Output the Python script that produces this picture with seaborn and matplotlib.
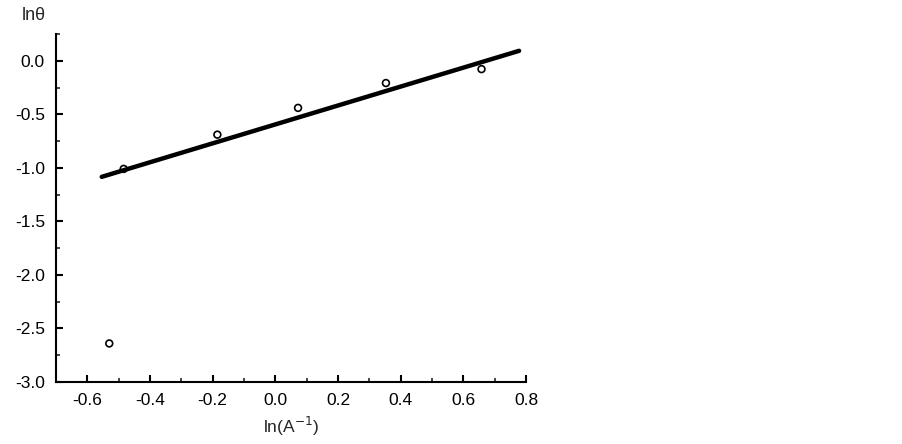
import matplotlib
matplotlib.use("Agg")
import matplotlib.pyplot as plt
import seaborn as sns
import pandas as pd
from matplotlib.ticker import MultipleLocator

# data
ln_inv_A = [-0.53, -0.484, -0.185, 0.0725, 0.353, 0.658]
ln_theta = [-2.64, -1.01, -0.69, -0.44, -0.208, -0.078]
fit_x = [-0.554, 0.778]
fit_y = [-1.084, 0.093]

sns.set_theme(style="ticks")
plt.rcParams['font.family'] = ['Liberation Sans', 'DejaVu Sans']

fig = plt.figure(figsize=(9.03, 4.44), dpi=100)
ax = fig.add_axes([56/903, 62/444, 470/903, 348/444])

pts = pd.DataFrame({"x": ln_inv_A, "y": ln_theta})
fit = pd.DataFrame({"x": fit_x, "y": fit_y})

sns.lineplot(data=fit, x="x", y="y", ax=ax, color="black", linewidth=3.2, zorder=2)
sns.scatterplot(data=pts, x="x", y="y", ax=ax, marker="o", s=24,
                facecolor="none", edgecolor="black", linewidth=1.2, zorder=3)

ax.set_xlim(-0.7, 0.8)
ax.set_ylim(-3.0, 0.25)
ax.xaxis.set_major_locator(MultipleLocator(0.2))
ax.xaxis.set_minor_locator(MultipleLocator(0.1))
ax.yaxis.set_major_locator(MultipleLocator(0.5))
ax.yaxis.set_minor_locator(MultipleLocator(0.25))
ax.set_xticks([-0.6, -0.4, -0.2, 0.0, 0.2, 0.4, 0.6, 0.8])
ax.set_xticklabels(["-0.6", "-0.4", "-0.2", "0.0", "0.2", "0.4", "0.6", "0.8"])
ax.set_yticks([0.0, -0.5, -1.0, -1.5, -2.0, -2.5, -3.0])
ax.set_yticklabels(["0.0", "-0.5", "-1.0", "-1.5", "-2.0", "-2.5", "-3.0"])

ax.tick_params(axis="both", which="major", direction="in", length=5, width=1.5,
               labelsize=12.5, colors="black", pad=8)
ax.tick_params(axis="both", which="minor", direction="in", length=3, width=1.2)
for s in ["top", "right"]:
    ax.spines[s].set_visible(False)
for s in ["left", "bottom"]:
    ax.spines[s].set_linewidth(1.5)
    ax.spines[s].set_color("black")

ax.set_xlabel("ln(A$^{-1}$)", fontsize=12.5, labelpad=5)
ax.set_ylabel("")
fig.text(34/903, 1 - 16/444, "lnθ", fontsize=13, ha="center", va="center")

fig.savefig("out.png", dpi=100, facecolor="white")
